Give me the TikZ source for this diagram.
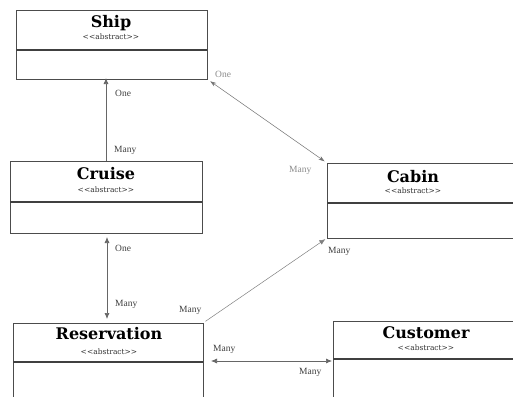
\documentclass[tikz,border=0pt]{standalone}
\usepackage{fontspec}
\setmainfont{Liberation Serif}
\newfontfamily\titlefont{DejaVu Serif}
\usetikzlibrary{arrows.meta}
\newcommand{\abst}{\textless\textless abstract\textgreater\textgreater}
\begin{document}
\begin{tikzpicture}[x=1pt,y=-1pt,
  umlbox/.style={draw=black!70, line width=0.9pt, fill=white, inner sep=0pt, outer sep=0pt, anchor=north west},
  divline/.style={draw=black!75, line width=1.3pt},
  ttl/.style={font=\titlefont\bfseries\fontsize{16}{16}\selectfont, inner sep=0pt},
  absl/.style={font=\titlefont\fontsize{7.5}{7.5}\selectfont, inner sep=0pt, text=black!80},
  lab/.style={font=\fontsize{9.5}{9.5}\selectfont, inner sep=0pt, text=black!75},
  glab/.style={font=\fontsize{9.5}{9.5}\selectfont, inner sep=0pt, text=black!45},
  conn/.style={draw=black!60, line width=0.7pt},
  tip/.tip={Latex[length=6pt,width=5pt]},
  otip/.tip={Stealth[length=6pt,width=4pt]}
]
\useasboundingbox (0,0) rectangle (513,396);
\clip (0,0) rectangle (513,396);
\fill[white] (0,0) rectangle (513,396);

% Ship
\node[umlbox, minimum width=191pt, minimum height=69pt] (ship) at (16,10) {};
\coordinate (shipdW) at (16,50); \coordinate (shipdE) at (207,50);
\draw[divline] (shipdW) -- (shipdE);
\node[ttl] (shipT) at (111,23) {Ship};
\node[absl] (shipA) at (111,37) {\abst};

% Cruise
\node[umlbox, minimum width=192pt, minimum height=72pt] (cruise) at (10,161) {};
\coordinate (crudW) at (10,202); \coordinate (crudE) at (202,202);
\draw[divline] (crudW) -- (crudE);
\node[ttl] (cruT) at (106,174) {Cruise};
\node[absl] (cruA) at (106,190) {\abst};

% Cabin
\node[umlbox, minimum width=200pt, minimum height=75pt] (cabin) at (327,163) {};
\coordinate (cabdW) at (327,203); \coordinate (cabdE) at (527,203);
\draw[divline] (cabdW) -- (cabdE);
\node[ttl] (cabT) at (413,177) {Cabin};
\node[absl] (cabA) at (413,191) {\abst};

% Reservation
\node[umlbox, minimum width=190pt, minimum height=90pt] (res) at (13,323) {};
\coordinate (resdW) at (13,362); \coordinate (resdE) at (203,362);
\draw[divline] (resdW) -- (resdE);
\node[ttl] (resT) at (109,334) {Reservation};
\node[absl] (resA) at (109,352) {\abst};

% Customer
\node[umlbox, minimum width=200pt, minimum height=90pt] (cust) at (333,321) {};
\coordinate (cusdW) at (333,359); \coordinate (cusdE) at (533,359);
\draw[divline] (cusdW) -- (cusdE);
\node[ttl] (cusT) at (426,333) {Customer};
\node[absl] (cusA) at (426,348) {\abst};

% Cruise -> Ship
\draw[conn, -tip, shorten >=-1pt] (cruise.north) -- (cruise.north |- ship.south);
\node[lab, anchor=west] (l1) at (115,93) {One};
\node[lab, anchor=west] (l2) at (114,150) {Many};

% Ship <-> Cabin
\draw[conn, draw=black!55, line width=0.5pt, otip-otip, shorten <=4pt, shorten >=3pt] (ship.south east) -- (cabin.north west);
\node[glab, anchor=west] (l3) at (215,74) {One};
\node[glab, anchor=west] (l4) at (289,170) {Many};

% Cruise <-> Reservation
\draw[conn, tip-tip, shorten <=4pt, shorten >=4pt] ([xshift=1pt]cruise.south) -- ([xshift=1pt]cruise.south |- res.north);
\node[lab, anchor=west] (l5) at (115,248) {One};
\node[lab, anchor=west] (l6) at (115,304) {Many};

% Reservation -> Cabin
\draw[conn, draw=black!50, line width=0.5pt, -tip, shorten <=3pt, shorten >=2pt] (res.north east) -- (cabin.south west);
\node[lab, anchor=west] (l7) at (179,310) {Many};
\node[lab, anchor=west] (l8) at (328,251) {Many};

% Reservation <-> Customer
\draw[conn, tip-tip, shorten <=8pt, shorten >=1pt] ([yshift=1pt]resdE) -- ([yshift=1pt]resdE -| cust.west);
\node[lab, anchor=west] (l9) at (213,349) {Many};
\node[lab, anchor=west] (l10) at (299,372) {Many};
\end{tikzpicture}
\end{document}
